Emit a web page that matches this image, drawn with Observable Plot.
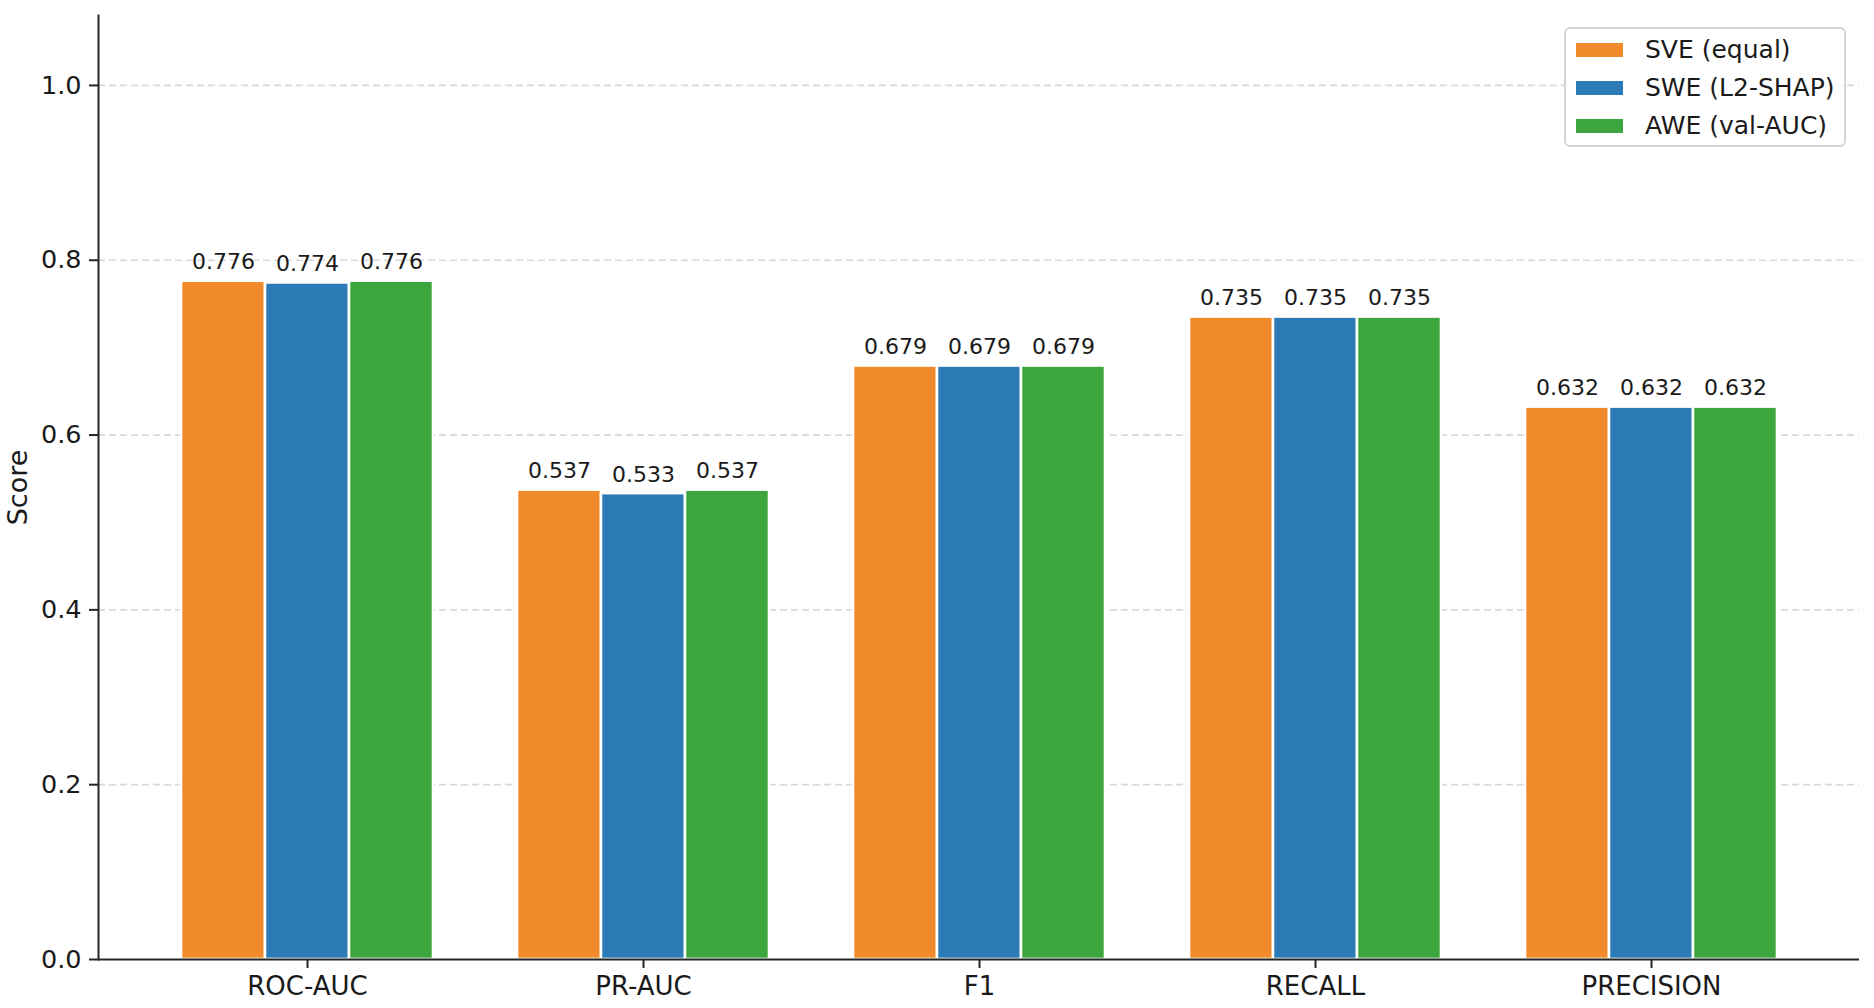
<!DOCTYPE html>
<html>
<head>
<meta charset="utf-8">
<script src="https://cdn.jsdelivr.net/npm/d3@7"></script>
<script src="https://cdn.jsdelivr.net/npm/@observablehq/plot@0.6"></script>
<style>
  html, body { margin: 0; padding: 0; background: #fff; overflow: hidden; }
  #wrap { position: relative; width: 1874px; height: 1008px; font-family: "DejaVu Sans", sans-serif; }
  #legend { position: absolute; left: 1564px; top: 27px; width: 278px; height: 116px;
    border: 2px solid #d4d4d4; border-radius: 6px; background: rgba(255,255,255,0.85); box-sizing: content-box; }
  .row { position: absolute; left: 10px; height: 30px; display: flex; align-items: center; }
  .sw { width: 47px; height: 14px; margin-right: 22px; }
  .lab { font-size: 25px; color: #1a1a1a; white-space: nowrap; line-height: 30px; }
</style>
</head>
<body>
<div id="wrap"><div id="chart"></div><div id="legend"></div></div>
<script>
const metrics = ["ROC-AUC", "PR-AUC", "F1", "RECALL", "PRECISION"];
const seriesNames = ["SVE (equal)", "SWE (L2-SHAP)", "AWE (val-AUC)"];
const seriesColors = ["#f18a2b", "#2c7bb6", "#3da53d"];
const sveValues = [0.776, 0.537, 0.679, 0.735, 0.632];
const sweValues = [0.774, 0.533, 0.679, 0.735, 0.632];
const aweValues = [0.776, 0.537, 0.679, 0.735, 0.632];
const yTicks = [0, 0.2, 0.4, 0.6, 0.8, 1.0];

const seriesValues = [sveValues, sweValues, aweValues];
const key = (m, s) => m + "|" + s;
const rows = [];
metrics.forEach((m, i) => seriesNames.forEach((s, j) => rows.push({metric: m, series: s, key: key(m, s), value: seriesValues[j][i]})));

// band domain: three bars per metric, one empty slot between groups
const xDomain = [];
metrics.forEach((m, i) => {
  seriesNames.forEach(s => xDomain.push(key(m, s)));
  if (i < metrics.length - 1) xDomain.push("gap|" + i);
});
const xTickKeys = metrics.map(m => key(m, seriesNames[1]));

const chart = Plot.plot({
  width: 1874,
  height: 1008,
  marginLeft: 98,
  marginRight: 15,
  marginTop: 15,
  marginBottom: 49,
  style: {fontFamily: "DejaVu Sans, sans-serif", color: "#1a1a1a", background: "#fff"},
  x: {domain: xDomain, paddingInner: 0, paddingOuter: 0.945, label: null},
  y: {domain: [0, 1.08], label: null},
  color: {domain: seriesNames, range: seriesColors},
  marks: [
    Plot.gridY(yTicks.filter(d => d > 0), {stroke: "#d9d9d9", strokeOpacity: 1, strokeWidth: 1.7, strokeDasharray: "7,4"}),
    Plot.barY(rows, {x: "key", y: "value", fill: "series", stroke: "white", strokeWidth: 2.6}),
    Plot.text(rows, {x: "key", y: "value", text: d => d3.format(".3f")(d.value),
      lineAnchor: "bottom", dy: -12, fontSize: 22, fill: "#1a1a1a"}),
    Plot.ruleY([0], {stroke: "#262626", strokeWidth: 2}),
    Plot.frame({anchor: "left", stroke: "#262626", strokeWidth: 2}),
    Plot.axisY({ticks: yTicks, tickFormat: d3.format(".1f"), tickSize: 9, tickPadding: 8, fontSize: 25.5, label: null, stroke: "#262626", strokeWidth: 2}),
    Plot.axisX({ticks: xTickKeys, tickFormat: d => d.split("|")[0], tickSize: 9, tickPadding: 8, fontSize: 26, label: null, stroke: "#262626", strokeWidth: 2}),
    Plot.text(["Score"], {frameAnchor: "left", textAnchor: "middle", rotate: -90, dx: -80, fontSize: 27, fill: "#1a1a1a"})
  ]
});
document.getElementById("chart").appendChild(chart);

const legend = document.getElementById("legend");
seriesNames.forEach((s, j) => {
  const row = document.createElement("div");
  row.className = "row";
  row.style.top = (6 + j * 37.75) + "px";
  const sw = document.createElement("div");
  sw.className = "sw";
  sw.style.background = seriesColors[j];
  const lab = document.createElement("div");
  lab.className = "lab";
  lab.textContent = s;
  row.appendChild(sw);
  row.appendChild(lab);
  legend.appendChild(row);
});
</script>
</body>
</html>
